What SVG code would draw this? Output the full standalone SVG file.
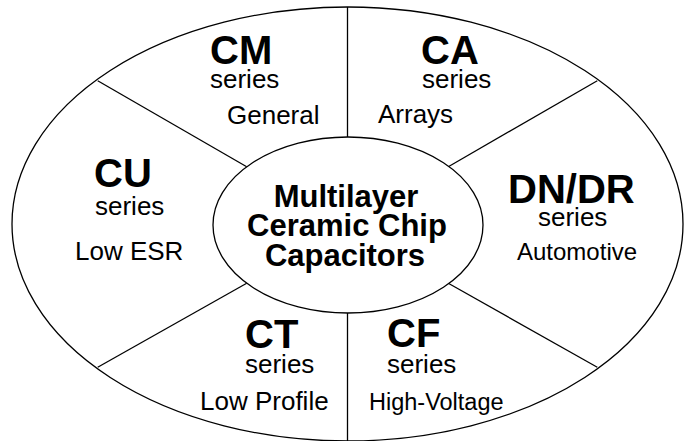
<svg xmlns="http://www.w3.org/2000/svg" width="687" height="441" viewBox="0 0 687 441">
<style>
.ln{fill:none;stroke:#000;stroke-width:1.3}
.code{font-family:"Liberation Sans",Arial,sans-serif;font-weight:bold;font-size:40px;fill:#000}
.ser{font-family:"Liberation Sans",Arial,sans-serif;font-size:26px;fill:#000}
.desc{font-family:"Liberation Sans",Arial,sans-serif;font-size:26px;fill:#000}
.ctr{font-family:"Liberation Sans",Arial,sans-serif;font-weight:bold;font-size:31px;fill:#000;text-anchor:middle}
</style>
<rect width="687" height="441" fill="#fff"/>
<g id="outer">
<ellipse class="ln" cx="347.5" cy="224" rx="335.5" ry="217"/>
</g>
<g id="connectors">
<line class="ln" x1="347.5" y1="7" x2="347.5" y2="137"/>
<line class="ln" x1="347.5" y1="313" x2="347.5" y2="441"/>
<line class="ln" x1="97.7" y1="80.7" x2="246.7" y2="166.7"/>
<line class="ln" x1="597.3" y1="80.7" x2="448.3" y2="166.7"/>
<line class="ln" x1="97.7" y1="367.3" x2="246.7" y2="283.3"/>
<line class="ln" x1="597.3" y1="367.3" x2="448.3" y2="283.3"/>
</g>
<g id="center">
<ellipse cx="348" cy="225" rx="135" ry="88" fill="#fff" stroke="#000" stroke-width="1.3"/>
<text class="ctr" x="346" y="207">Multilayer</text>
<text class="ctr" x="347" y="236">Ceramic Chip</text>
<text class="ctr" x="345" y="266">Capacitors</text>
</g>
<g id="CM">
<text class="code" x="210" y="64">CM</text>
<text class="ser" x="210" y="88">series</text>
<text class="desc" x="227" y="124">General</text>
</g>
<g id="CA">
<text class="code" x="421" y="64">CA</text>
<text class="ser" x="422" y="88">series</text>
<text class="desc" x="378" y="123">Arrays</text>
</g>
<g id="CU">
<text class="code" x="94" y="187">CU</text>
<text class="ser" x="95" y="215">series</text>
<text class="desc" x="75" y="260">Low ESR</text>
</g>
<g id="DNDR">
<text class="code" x="508" y="203">DN/DR</text>
<text class="ser" x="538" y="226">series</text>
<text class="desc" x="517" y="260" style="font-size:24px">Automotive</text>
</g>
<g id="CT">
<text class="code" x="245" y="348">CT</text>
<text class="ser" x="245" y="373">series</text>
<text class="desc" x="200" y="410">Low Profile</text>
</g>
<g id="CF">
<text class="code" x="387" y="347">CF</text>
<text class="ser" x="387" y="373">series</text>
<text class="desc" x="369" y="410" style="font-size:23.5px">High-Voltage</text>
</g>
</svg>
